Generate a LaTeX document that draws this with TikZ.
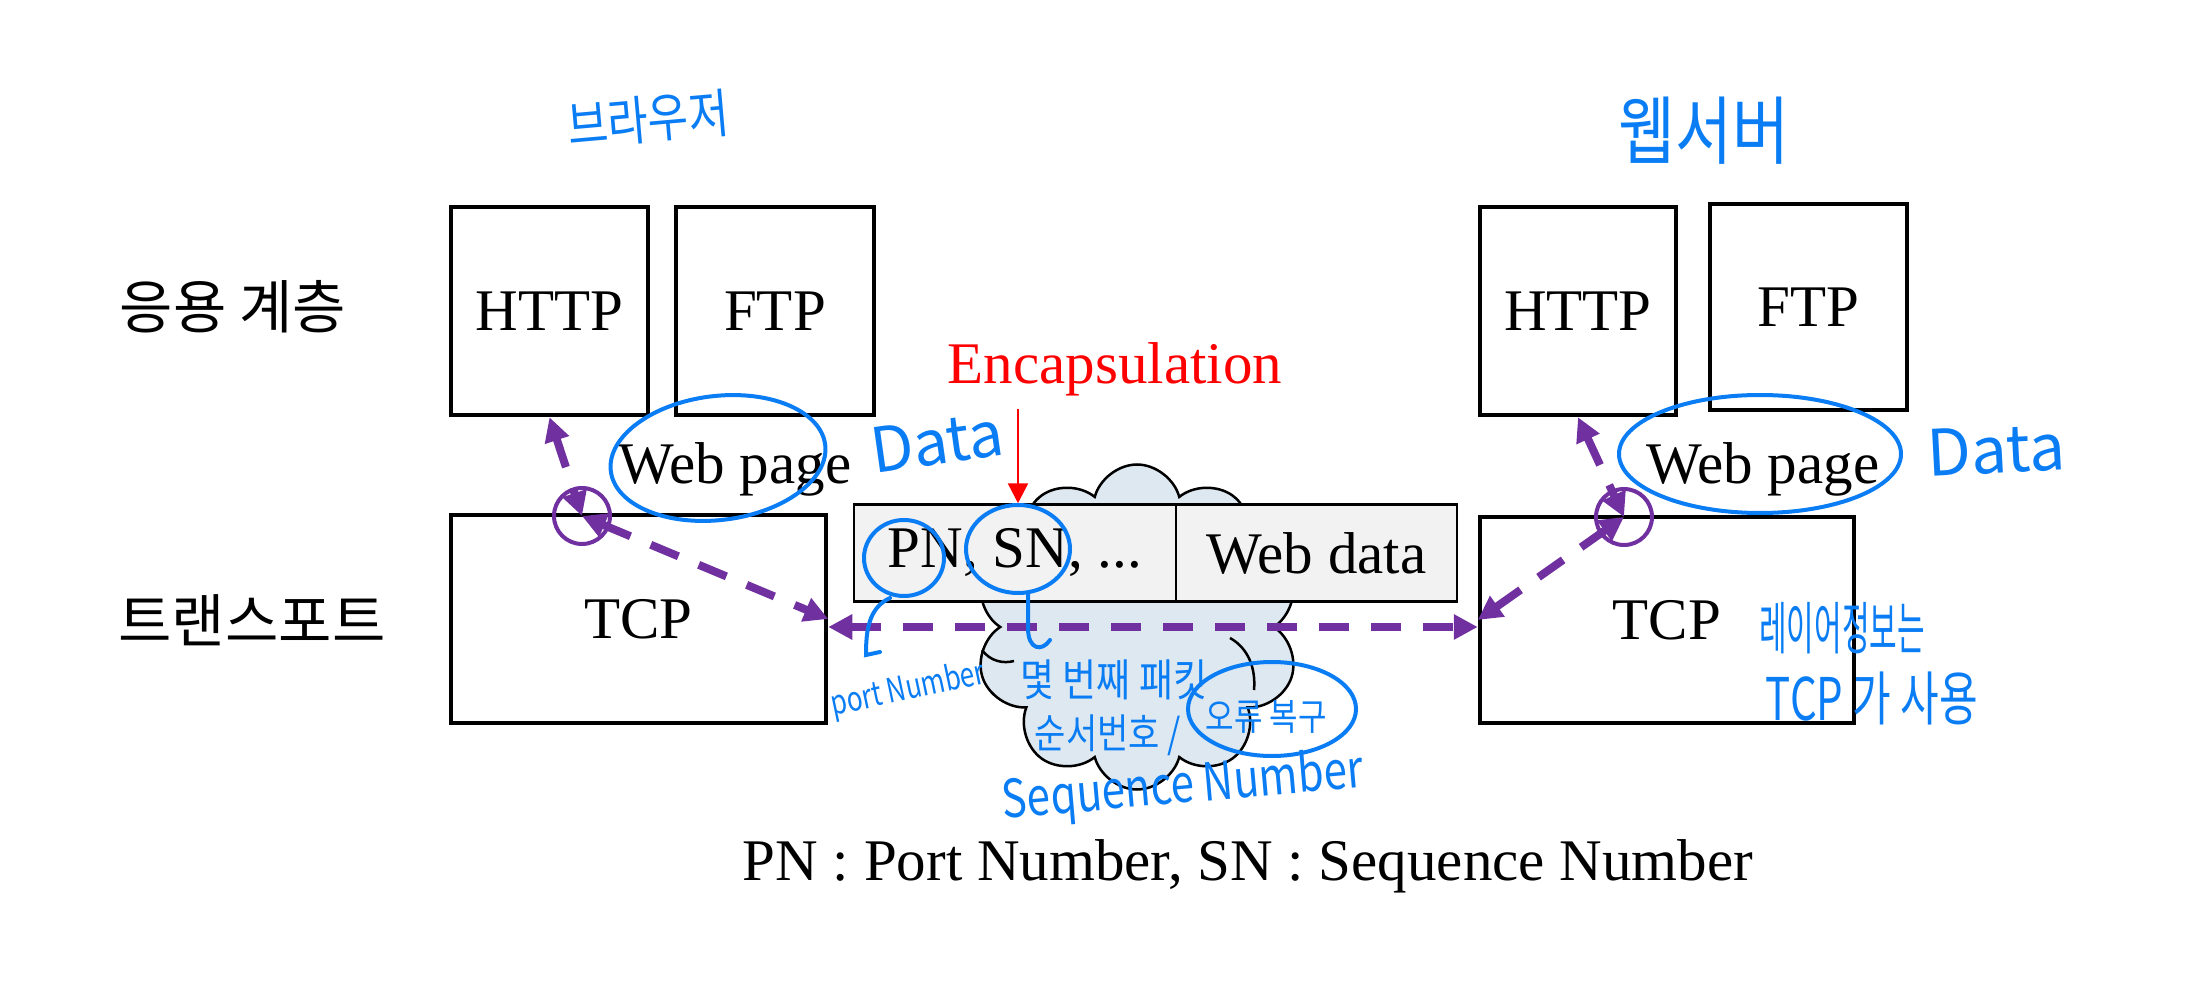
\documentclass[tikz,border=0pt]{standalone}
\usepackage{fontspec}
\usepackage{graphicx}
\setmainfont{Liberation Serif}
\newfontfamily\krfont{Noto Sans CJK KR}
\usetikzlibrary{shapes.symbols,arrows.meta}
\definecolor{purp}{RGB}{112,48,160}
\definecolor{hwblue}{RGB}{10,125,245}
\definecolor{hdrgray}{RGB}{242,242,242}
\definecolor{cloudfill}{RGB}{222,232,240}
\newcommand{\fsz}[1]{\fontsize{#1pt}{#1pt}\selectfont}
\tikzset{
  box/.style={draw=black, line width=4.5pt, inner sep=0pt, font=\fsz{59}},
  hdr/.style={draw=black, line width=2.5pt, fill=hdrgray, inner sep=0pt, minimum height=97pt, font=\fsz{59}},
  pa/.style={draw=purp, line width=8pt, dash pattern=on 30pt off 22pt, >={Triangle[length=24pt,width=24pt]}, <->},
  pcirc/.style={circle, draw=purp, line width=4pt, minimum size=56pt, inner sep=0pt},
  hw/.style={text=hwblue, inner sep=0pt},
  hwline/.style={draw=hwblue, line width=4pt, line cap=round},
  txt/.style={inner sep=0pt, font=\fsz{59}},
  krlabel/.style={inner sep=0pt, font=\krfont\fsz{58}},
  cloudline/.style={draw=black, line width=2.5pt},
}
\begin{document}
\begin{tikzpicture}[x=1pt,y=-1pt]
\path[use as bounding box, fill=white] (0,0) rectangle (2196,1000);

% layer labels
\node[krlabel] (app) at (233,307) {응용 계층};
\node[krlabel] (trans) at (252,620) {트랜스포트};

% application boxes
\node[box, minimum width=197pt, minimum height=208pt] (lhttp) at (549.5,311) {HTTP};
\node[box, minimum width=198pt, minimum height=208pt] (lftp) at (775,311) {FTP};
\node[box, minimum width=196pt, minimum height=208pt] (rhttp) at (1578,311) {HTTP};
\node[box, minimum width=197pt, minimum height=206pt] (rftp) at (1808.5,307) {FTP};

% transport boxes
\node[box, minimum width=375pt, minimum height=208pt] (ltcp) at (638.5,619) {TCP};
\node[box, minimum width=374pt, minimum height=206pt] (rtcp) at (1667,620) {TCP};

% cloud and header
\node[cloud, cloud puffs=10, aspect=1, cloudline, fill=cloudfill,
      minimum width=325pt, minimum height=325pt] (cloud) at (1137,627) {};
\draw[cloudline] (1230,638) .. controls (1248,648) and (1256,668) .. (1254,690);
\draw[cloudline] (982,650) .. controls (990,661) and (1003,664) .. (1014,661);
\node[hdr, minimum width=322pt] (hdrA) at (1015,553) {PN, SN, ...};
\node[hdr, minimum width=281pt] (hdrB) at (1316.5,553) {Web data};

% texts
\node[txt, anchor=base, text=red] (encap) at (1115,383) {Encapsulation};
\coordinate (encstart) at (1018,409);
\draw[red, line width=2.5pt, -{Triangle[length=20pt,width=20pt]}] (encstart) -- (encstart |- hdrA.north);
\node[txt, anchor=base] (wpl) at (735,483) {Web page};
\node[txt, anchor=base] (wpr) at (1763,483) {Web page};
\node[txt, anchor=base] (legend) at (1248,880) {PN : Port Number, SN : Sequence Number};

% purple circles and arrows
\node[pcirc] (lc) at (582,516) {};
\node[pcirc] (rc) at (1624,517) {};
\draw[pa] (lhttp.south) -- (lc.center);
\draw[pa] (lc.center) -- (ltcp.east);
\draw[pa] ([yshift=-8pt]ltcp.east) -- ([yshift=-7pt]rtcp.west);
\draw[pa] (rhttp.south) -- (rc.center);
\draw[pa] (rc.center) -- (rtcp.west);

% handwritten annotations
\node[hw, font=\krfont\fsz{44}, rotate=5] (browser) at (648,119) {\scalebox{1}[1.2]{브라우저}};
\node[hw, font=\krfont\fsz{62}] (server) at (1704,131) {\scalebox{1}[1.2]{웹서버}};
\draw[hwline, rotate around={7:(718,458)}] (718,458) ellipse [x radius=108pt, y radius=62pt];
\draw[hwline] (1760,454) ellipse [x radius=141pt, y radius=59pt];
\node[hw, font=\krfont\fsz{62}, rotate=8] (datal) at (937,442) {Data};
\node[hw, font=\krfont\fsz{64}, rotate=3] (datar) at (1996,450) {Data};

\draw[hwline] (904,558) ellipse [x radius=40pt, y radius=38pt];
\draw[hwline] (1018,549) ellipse [x radius=52pt, y radius=44pt];
\draw[hwline] (890,598) .. controls (868,608) and (866,632) .. (866,655) -- (880,652);
\draw[hwline] (1028,593) -- (1028,628) .. controls (1028,650) and (1042,652) .. (1050,640);

\node[hw, font=\krfont\fsz{26}, rotate=12] (portnum) at (908,690) {\scalebox{1}[1.3]{port Number}};
\node[hw, font=\krfont\fsz{37}] (pkt) at (1114,680) {\scalebox{1}[1.2]{몇 번째 패킷}};
\node[hw, font=\krfont\fsz{34}] (seqko) at (1108,735) {\scalebox{1}[1.2]{순서번호 /}};
\node[hw, font=\krfont\fsz{31}] (errrec) at (1266,717) {\scalebox{1}[1.2]{오류 복구}};
\draw[hwline] (1272,709) ellipse [x radius=84pt, y radius=47pt];
\node[hw, font=\krfont\fsz{42}, rotate=5] (seqen) at (1183,788) {\scalebox{1}[1.25]{Sequence Number}};

\node[hw, font=\krfont\fsz{30}] (layer) at (1842,628) {\scalebox{1}[1.9]{레이어정보는}};
\node[hw, font=\krfont\fsz{42}] (tcpuse) at (1872,698) {\scalebox{1}[1.4]{TCP 가 사용}};
\end{tikzpicture}
\end{document}
